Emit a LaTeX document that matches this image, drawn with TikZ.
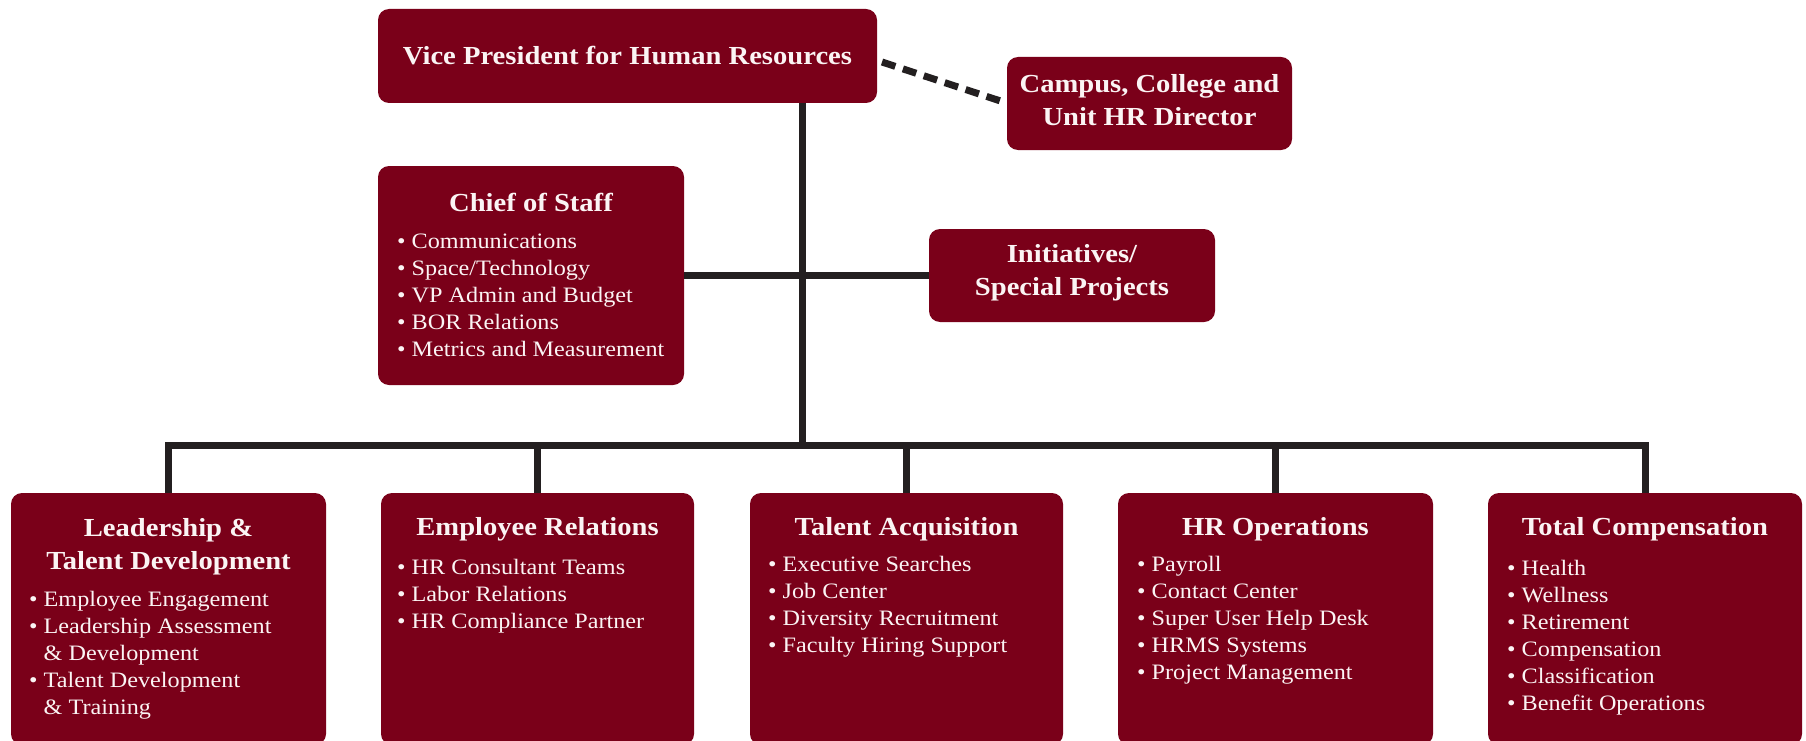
\documentclass[tikz,border=0pt]{standalone}
\usepackage{fontspec}
\setmainfont{Liberation Serif}[FakeStretch=1.1]
\definecolor{maroon}{HTML}{7A0019}
\definecolor{linegray}{HTML}{231F20}
\definecolor{boxtext}{HTML}{FBF4F4}
\begin{document}
\begin{tikzpicture}[x=1pt,y=-1pt,
  unit/.style={fill=maroon, draw=none, rounded corners=11pt, inner sep=0pt, outer sep=0pt},
  head/.style={text=boxtext, font=\bfseries\fontsize{26}{33}\selectfont, align=center, inner sep=0pt},
  items/.style={text=boxtext, font=\fontsize{22}{27}\selectfont, align=left, inner sep=0pt, anchor=north west},
  link/.style={draw=linegray, line width=7pt},
  dotted link/.style={draw=linegray, line width=7pt, dash pattern=on 14pt off 8pt}]
\useasboundingbox (0,0) rectangle (1806,741);
\fill[white] (0,0) rectangle (1806,741);

% top row
\node[unit, minimum width=499pt, minimum height=94pt] (vp) at (627.5,56) {};
\node[head] (vpT) at (vp.center) {Vice President for Human Resources};
\node[unit, minimum width=285pt, minimum height=93pt] (campus) at (1149.5,103.5) {};
\node[head] (campusT) at (1149.5,100) {Campus, College and\\Unit HR Director};

% staff level
\node[unit, minimum width=306pt, minimum height=219pt] (chief) at (531,275.5) {};
\node[head, anchor=base] (chiefT) at (531,211) {Chief of Staff};
\node[items] (chiefL) at (397,234) {• Communications\\• Space/Technology\\• VP Admin and Budget\\• BOR Relations\\• Metrics and Measurement};
\node[unit, minimum width=286pt, minimum height=93pt] (init) at (1072,275.5) {};
\node[head] (initT) at (1072,273) {Initiatives/\\Special Projects};

% units
\node[unit, minimum width=315pt, minimum height=252pt] (b1) at (168.5,619) {};
\node[unit, minimum width=313pt, minimum height=252pt] (b2) at (537.5,619) {};
\node[unit, minimum width=313pt, minimum height=252pt] (b3) at (906.5,619) {};
\node[unit, minimum width=315pt, minimum height=252pt] (b4) at (1275.5,619) {};
\node[unit, minimum width=314pt, minimum height=252pt] (b5) at (1645,619) {};

\node[head] (b1T) at (168.5,547) {Leadership \&\\Talent Development};
\node[head, anchor=base] (b2T) at (537.5,535) {Employee Relations};
\node[head, anchor=base] (b3T) at (906.5,535) {Talent Acquisition};
\node[head, anchor=base] (b4T) at (1275.5,535) {HR Operations};
\node[head, anchor=base] (b5T) at (1645,535) {Total Compensation};

\node[items] (b1L) at (29,591) {• Employee Engagement\\• Leadership Assessment\\\phantom{• }\& Development\\• Talent Development\\\phantom{• }\& Training};
\node[items] (b2L) at (397,559) {• HR Consultant Teams\\• Labor Relations\\• HR Compliance Partner};
\node[items] (b3L) at (768,556) {• Executive Searches\\• Job Center\\• Diversity Recruitment\\• Faculty Hiring Support};
\node[items] (b4L) at (1137,556) {• Payroll\\• Contact Center\\• Super User Help Desk\\• HRMS Systems\\• Project Management};
\node[items] (b5L) at (1507,560) {• Health\\• Wellness\\• Retirement\\• Compensation\\• Classification\\• Benefit Operations};

% connectors
\coordinate (bus) at (802,445);
\draw[link] (vp.south -| bus) -- (bus);
\draw[link] (chief.east) -- (init.west);
\draw[link] (b1.north) |- (bus) -| (b5.north);
\draw[link] (b2.north) -- (b2.north |- bus);
\draw[link] (b3.north) -- (b3.north |- bus);
\draw[link] (b4.north) -- (b4.north |- bus);
\draw[dotted link] ([xshift=5pt,yshift=-6pt]vp.east) -- ([xshift=-5pt,yshift=2pt]campus.west);
\end{tikzpicture}
\end{document}
